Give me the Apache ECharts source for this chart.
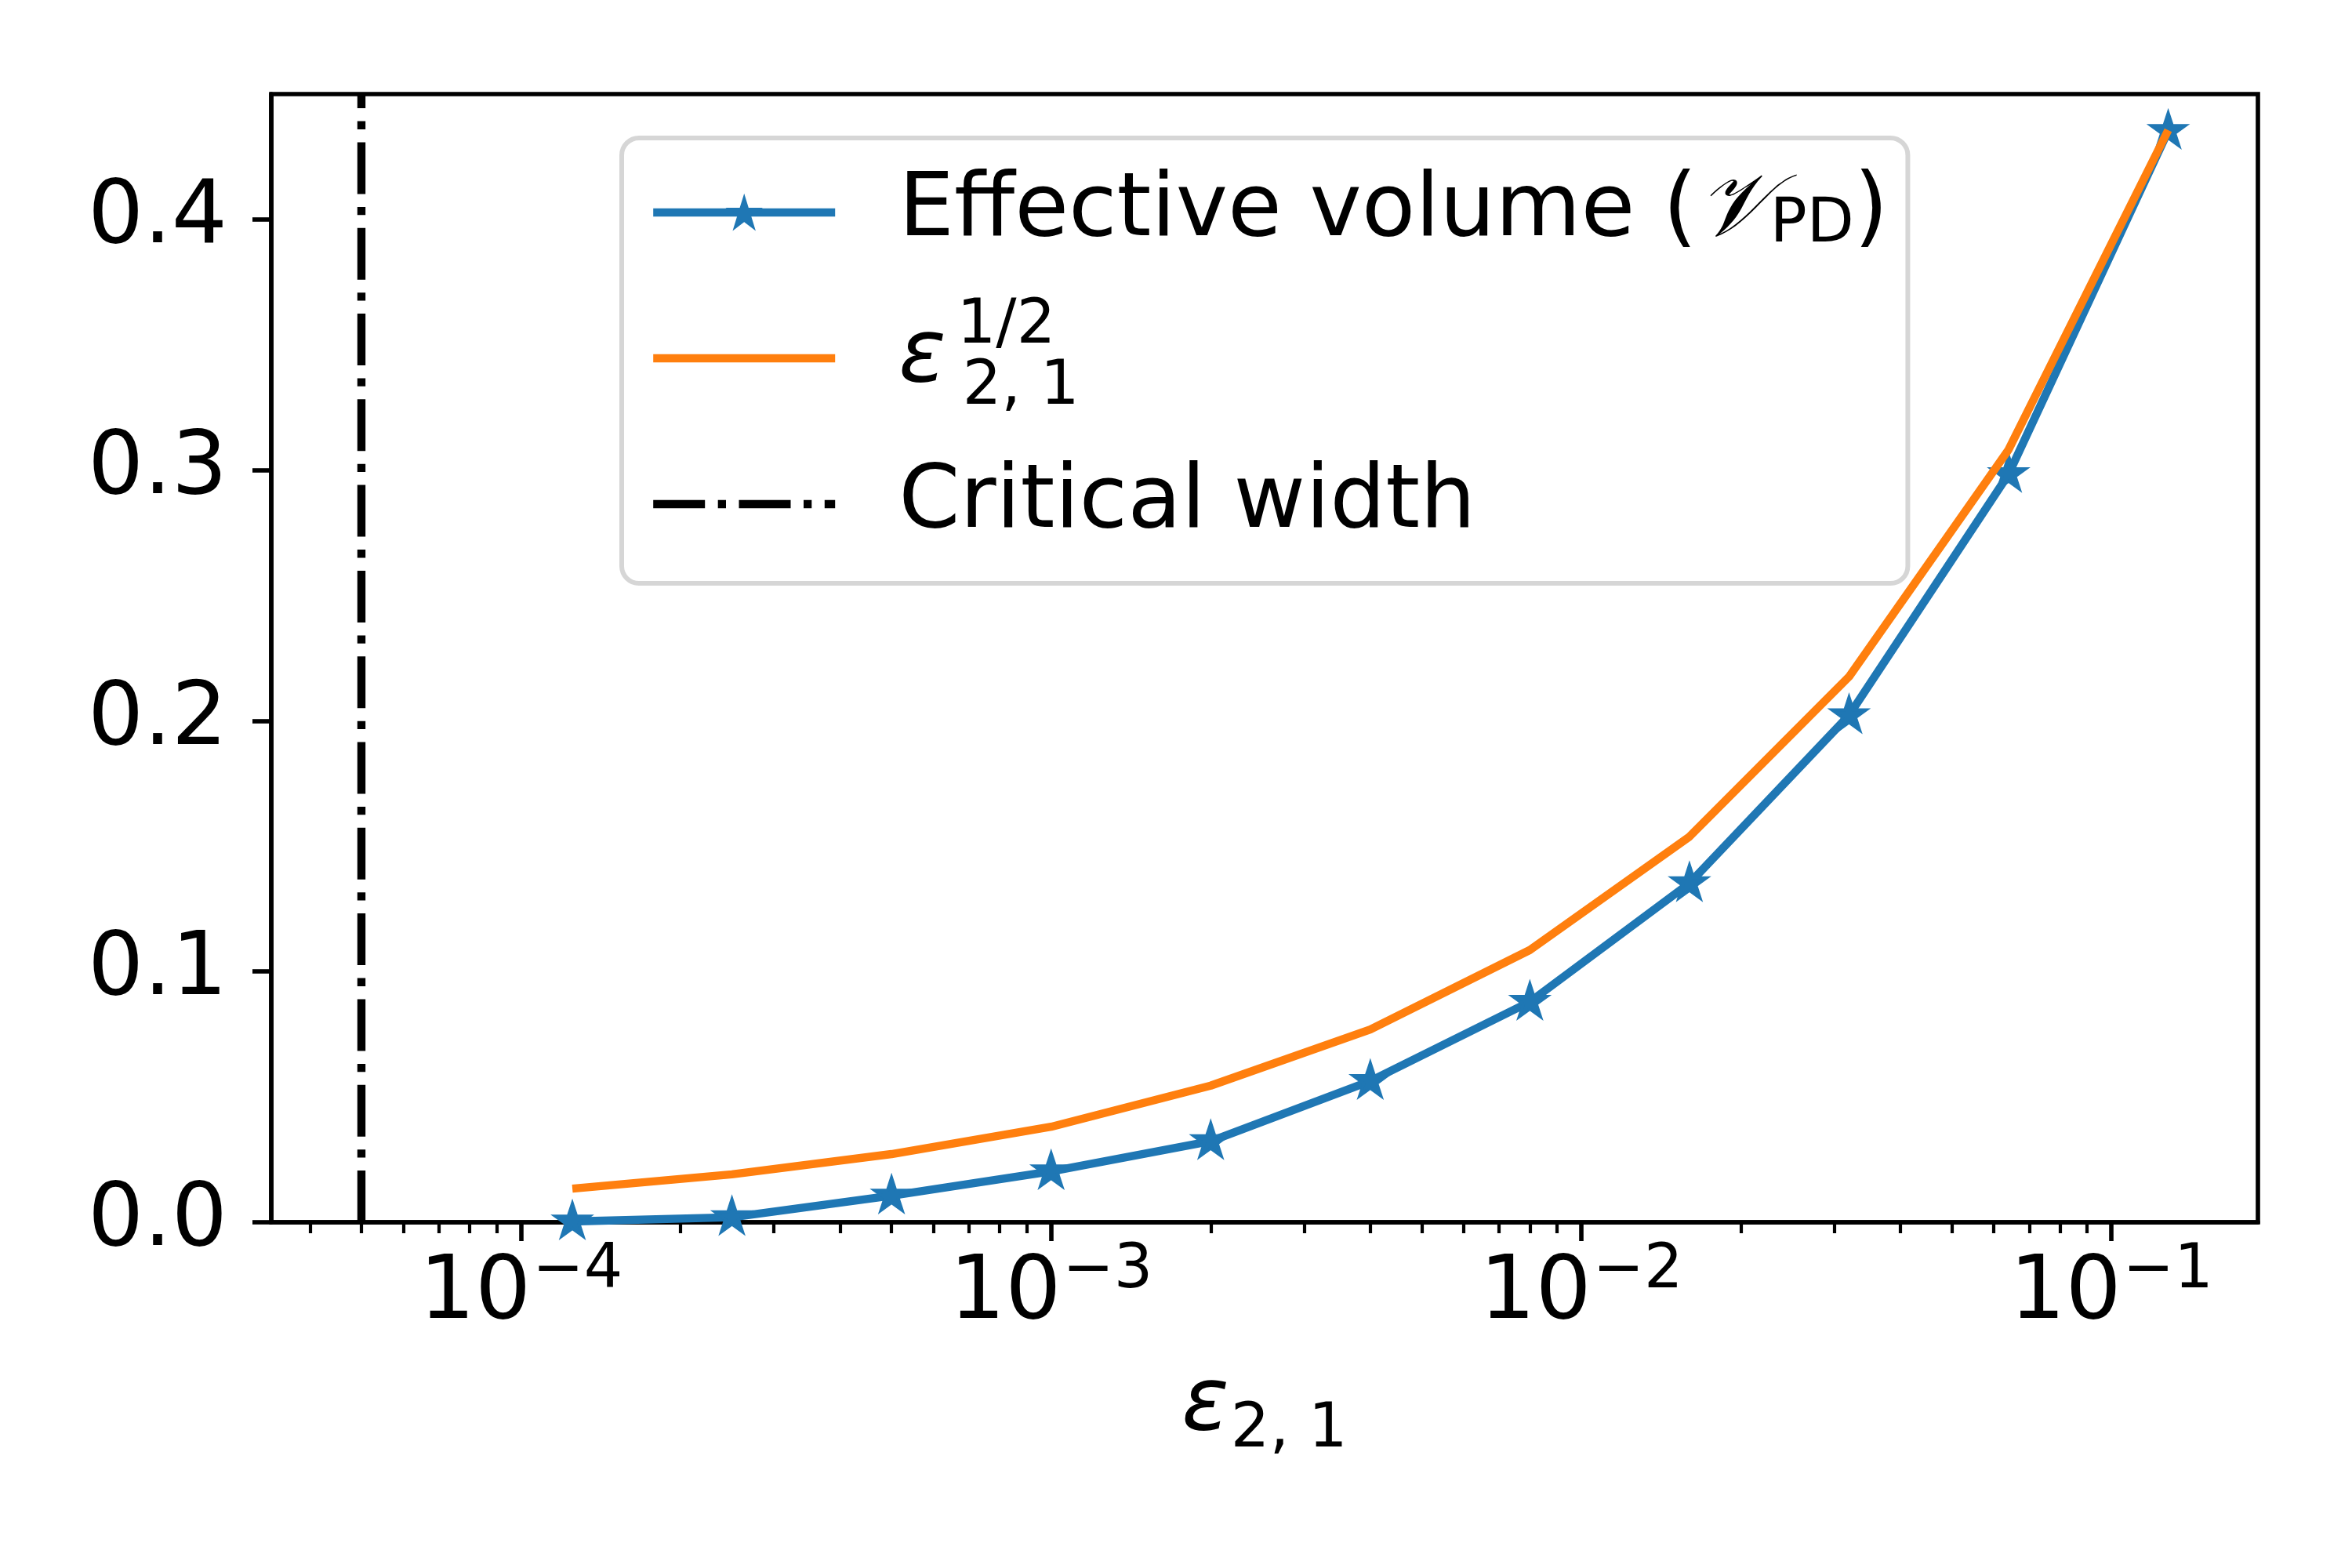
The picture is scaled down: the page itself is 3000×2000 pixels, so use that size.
<!DOCTYPE html>
<html>
<head>
<meta charset="utf-8">
<script src="https://cdn.jsdelivr.net/npm/echarts@6/dist/echarts.min.js"></script>
<style>
  html, body { margin: 0; padding: 0; background: #fff; }
  #chart { width: 3000px; height: 2000px; }
</style>
</head>
<body>
<div id="chart"></div>
<script>
// values
const epsValues = [1.25e-4, 2.5e-4, 5e-4, 1e-3, 2e-3, 4e-3, 8e-3, 1.6e-2, 3.2e-2, 6.4e-2, 1.28e-1];
const effVolume = [0.0003, 0.002, 0.0106, 0.0203, 0.0323, 0.0563, 0.0879, 0.1352, 0.2022, 0.2984, 0.4353];
const sqrtEps = [0.0134, 0.0191, 0.0272, 0.0381, 0.0545, 0.0769, 0.1086, 0.1538, 0.2176, 0.3082, 0.4356];
const criticalWidth = [5e-5];

const yTicks = [0, 0.1, 0.2, 0.3, 0.4];
const xMajorTicks = [1e-4, 1e-3, 1e-2, 1e-1];
const X_MIN = 3.38e-5;
const X_MAX = 0.189;
const Y_MIN = 0;
const Y_MAX = 0.45;

// minor ticks of a log axis: 2..9 times each decade
const xMinorTicks = [];
[-5, -4, -3, -2, -1].forEach((e) => {
  [2, 3, 4, 5, 6, 7, 8, 9].forEach((m) => {
    let v = m * Math.pow(10, e);
    if (v > X_MIN && v < X_MAX) xMinorTicks.push(v);
  });
});

const NAMES = ["Effective volume (𝒱PD)", "ε^1/2 2,1", "Critical width"];
const BLUE = "#1f77b4";
const ORANGE = "#ff7f0e";
const FONT = "DejaVu Sans";
const FS = 112;
const FS_SMALL = 78;
const LW = 10.4;
const SPINE = 5.6;

function starPath() {
  let pts = [];
  for (let i = 0; i < 10; i++) {
    let ang = Math.PI / 2 + (i * Math.PI) / 5;
    let r = i % 2 ? 0.381966 : 1;
    pts.push([r * Math.cos(ang), -r * Math.sin(ang)]);
  }
  return "path://M" + pts.map((p) => p[0].toFixed(4) + "," + p[1].toFixed(4)).join("L") + "Z";
}
const STAR = starPath();

const legendLabels = {};
legendLabels[NAMES[0]] = "{t0|Effective volume (}{v|𝒱}{d|PD}{t|)}";
legendLabels[NAMES[1]] = "{e0|ε}{p|1/2}{d2|2, 1}";
legendLabels[NAMES[2]] = "{t0|Critical width}";

let chart = echarts.init(document.getElementById("chart"));

let option = {
  animation: false,
  backgroundColor: "#fff",
  grid: {
    left: 346,
    top: 120,
    width: 2534,
    height: 1439,
    containLabel: false,
    outerBoundsMode: "none",
    show: true,
    borderColor: "#000",
    borderWidth: SPINE,
    backgroundColor: "transparent",
  },
  legend: {
    orient: "vertical",
    left: 793,
    top: 176,
    itemWidth: 232,
    itemHeight: 52,
    itemGap: 51,
    padding: [39, 25, 45, 35],
    backgroundColor: "#fff",
    borderColor: "#d6d6d6",
    borderWidth: 6,
    borderRadius: 22,
    lineStyle: { width: LW },
    textStyle: {
      fontFamily: FONT,
      fontSize: FS,
      color: "#000",
      rich: {
        t0: { fontSize: FS, lineHeight: 133, padding: [0, 0, 0, 76] },
        t: { fontSize: FS, lineHeight: 133 },
        v: { fontSize: FS, lineHeight: 133, fontFamily: "DejaVu Serif", fontStyle: "italic" },
        d: { fontSize: FS_SMALL, lineHeight: 133, padding: [34, 0, 0, 0] },
        e0: { fontSize: FS, lineHeight: 133, fontStyle: "italic", padding: [0, 0, 0, 76] },
        p: { fontSize: FS_SMALL, lineHeight: 133, width: 1, padding: [0, 0, 80, 14] },
        d2: { fontSize: FS_SMALL, lineHeight: 133, padding: [76, 0, 0, 6] },
      },
    },
    formatter: function (name) {
      return legendLabels[name];
    },
    data: [
      { name: NAMES[0] },
      { name: NAMES[1], itemStyle: { opacity: 0 } },
      { name: NAMES[2], itemStyle: { opacity: 0 } },
    ],
  },
  xAxis: [
    {
      type: "log",
      logBase: 10,
      min: X_MIN,
      max: X_MAX,
      position: "bottom",
      axisLine: { show: true, lineStyle: { color: "#000", width: SPINE } },
      axisTick: {
        show: true,
        customValues: xMajorTicks,
        length: 24,
        inside: false,
        lineStyle: { color: "#000", width: SPINE },
      },
      minorTick: { show: false },
      splitLine: { show: false },
      axisLabel: {
        customValues: xMajorTicks,
        margin: 26,
        color: "#000",
        fontFamily: FONT,
        fontSize: FS,
        formatter: function (value) {
          let e = Math.round(Math.log10(value));
          return "{b|10}{s|" + (e < 0 ? "\u2212" : "") + Math.abs(e) + "}";
        },
        rich: {
          b: { fontSize: FS, lineHeight: 133, fontFamily: FONT, color: "#000" },
          s: { fontSize: FS_SMALL, lineHeight: 133, fontFamily: FONT, color: "#000", padding: [0, 0, 60, 2] },
        },
      },
      name: "{e|ε}{d|2, 1}",
      nameLocation: "middle",
      nameGap: 164,
      nameTextStyle: {
        color: "#000",
        fontFamily: FONT,
        rich: {
          e: { fontSize: FS, lineHeight: 133, fontStyle: "italic", fontFamily: FONT, color: "#000" },
          d: { fontSize: FS_SMALL, lineHeight: 133, fontFamily: FONT, color: "#000", padding: [60, 0, 0, 2] },
        },
      },
    },
    {
      // minor ticks only
      type: "log",
      logBase: 10,
      min: X_MIN,
      max: X_MAX,
      position: "bottom",
      axisLine: { show: false },
      axisTick: {
        show: true,
        customValues: xMinorTicks,
        length: 14,
        inside: false,
        lineStyle: { color: "#000", width: 4.2 },
      },
      axisLabel: { show: false },
      splitLine: { show: false },
    },
  ],
  yAxis: {
    type: "value",
    min: Y_MIN,
    max: Y_MAX,
    axisLine: { show: true, lineStyle: { color: "#000", width: SPINE } },
    axisTick: {
      show: true,
      customValues: yTicks,
      length: 24,
      inside: false,
      lineStyle: { color: "#000", width: SPINE },
    },
    splitLine: { show: false },
    axisLabel: {
      customValues: yTicks,
      margin: 56,
      color: "#000",
      fontFamily: FONT,
      fontSize: FS,
      formatter: function (value) {
        return value.toFixed(1);
      },
    },
  },
  series: [
    {
      name: NAMES[0],
      type: "line",
      data: epsValues.map((x, i) => [x, effVolume[i]]),
      symbol: STAR,
      symbolSize: [43.6, 41.5],
      symbolOffset: [0, -2],
      showSymbol: true,
      showAllSymbol: true,
      lineStyle: { color: BLUE, width: LW },
      itemStyle: { color: BLUE, borderColor: BLUE, borderWidth: 4, borderJoin: "miter" },
      z: 2,
    },
    {
      name: NAMES[1],
      type: "line",
      data: epsValues.map((x, i) => [x, sqrtEps[i]]),
      symbol: "none",
      lineStyle: { color: ORANGE, width: LW },
      itemStyle: { color: ORANGE },
      z: 3,
    },
    {
      name: NAMES[2],
      type: "line",
      data: [
        [criticalWidth[0], Y_MIN],
        [criticalWidth[0], Y_MAX],
      ],
      symbol: "none",
      lineStyle: { color: "#000", width: LW, type: [66, 16.5, 10.3, 16.5], cap: "butt" },
      itemStyle: { color: "#000" },
      z: 4,
    },
  ],
};

chart.setOption(option);
</script>
</body>
</html>
